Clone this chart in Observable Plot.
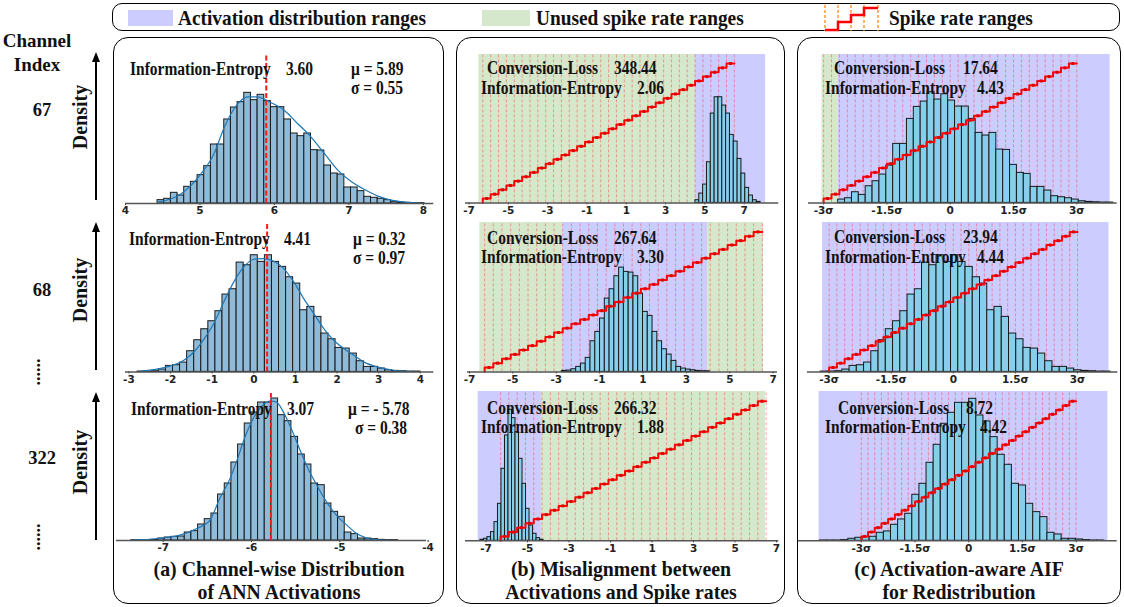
<!DOCTYPE html>
<html><head><meta charset="utf-8">
<script src="https://cdn.jsdelivr.net/npm/d3@7"></script>
<script src="https://cdn.jsdelivr.net/npm/@observablehq/plot@0.6"></script>
<style>
html,body{margin:0;padding:0;background:#fff;}
#root{position:relative;width:1124px;height:607px;overflow:hidden;font-family:"Liberation Serif","Times New Roman",serif;font-weight:bold;color:#111;}
.abs{position:absolute;white-space:pre;line-height:1;z-index:5;}
.box{position:absolute;border:1.5px solid #000;box-sizing:border-box;}
</style></head><body><div id="root"></div><script>
// ---------------- DATA ----------------
const channels = ["67", "68", "322"];
const means = [5.89, 0.32, -5.78];
const sigmas = [0.55, 0.97, 0.38];
const entropyA = [3.60, 4.41, 3.07];
const entropyB = [2.06, 3.30, 1.88];
const lossB = [348.44, 267.64, 266.32];
const entropyC = [4.43, 4.44, 4.42];
const lossC = [17.64, 23.94, 8.72];

// (a) histograms of channel activations (bin start, bin width, counts)
const binStartA = [4.43, -2.79, -7.36];
const binWidthA = [0.0896, 0.1698, 0.0755];
const countsA67 = [10,14,32,24,50,65,85,112,177,177,252,288,304,332,310,326,307,289,289,252,210,202,210,160,159,114,90,87,48,48,37,20,17,14,10,5,3,2,1,1];
const countsA68 = [1,1,2,7,18,20,28,62,95,128,152,182,232,248,328,320,350,330,350,330,315,284,265,185,195,165,115,98,72,70,55,32,15,15,10,5,3,2,1,1];
const countsA322 = [1,1,1,2,6,9,11,12,24,28,48,64,81,138,171,234,288,351,384,414,414,426,376,358,311,258,228,171,166,111,86,71,24,19,6,6,4,2,1,1];

// (a) density curves
const kdeX67 = [4.43,4.74,5.0,5.19,5.32,5.46,5.64,5.77,5.95,6.13,6.31,6.49,6.67,6.85,7.03,7.21,7.39,7.57,7.75,7.96];
const kdeY67 = [4,28,85,150,225,285,320,320,303,280,240,200,150,100,66,42,22,10,4,1];
const kdeX68 = [-2.76,-2.08,-1.68,-1.40,-1.16,-0.96,-0.72,-0.48,-0.24,0.0,0.24,0.48,0.72,0.96,1.20,1.44,1.68,1.92,2.16,2.40,2.64,2.96,3.36,3.84];
const kdeY68 = [2,15,35,65,105,145,210,270,315,338,340,332,310,270,220,175,130,95,70,50,30,15,5,1];
const kdeX322 = [-7.36,-7.06,-6.81,-6.62,-6.47,-6.36,-6.26,-6.17,-6.08,-5.98,-5.89,-5.79,-5.72,-5.64,-5.55,-5.45,-5.36,-5.26,-5.15,-5.04,-4.92,-4.81,-4.70,-4.55,-4.32];
const kdeY322 = [1,6,16,36,61,126,176,236,306,366,401,418,416,386,336,271,216,166,116,76,46,21,8,2,0];

// (b) histograms on the shared spike-rate axis
const binStartB = [4.52, -2.74, -7.27];
const binWidthB = [0.195, 0.22, 0.169];
const countsB67 = [8,28,55,122,268,317,317,292,268,204,184,132,88,45,22,8,3];
const countsB68 = [3,4,8,15,25,42,92,120,160,220,248,287,313,300,298,287,235,180,168,120,92,68,52,33,15,10,7,5,3,2,2];
const countsB322 = [3,6,11,26,56,111,216,316,393,368,326,246,171,96,46,21,8,3];

// spike-rate thresholds (T = 32 levels)
const spikeLevels = 32;
const thresholdsB = [-6.3,-5.9,-5.5,-5.1,-4.7,-4.3,-3.9,-3.5,-3.1,-2.7,-2.3,-1.9,-1.5,-1.1,-0.7,-0.3,0.1,0.5,0.9,1.3,1.7,2.1,2.5,2.9,3.3,3.7,4.1,4.5,4.9,5.3,5.7,6.1,6.5];
const thresholdsC = [-3,-2.8125,-2.625,-2.4375,-2.25,-2.0625,-1.875,-1.6875,-1.5,-1.3125,-1.125,-0.9375,-0.75,-0.5625,-0.375,-0.1875,0,0.1875,0.375,0.5625,0.75,0.9375,1.125,1.3125,1.5,1.6875,1.875,2.0625,2.25,2.4375,2.625,2.8125,3];

// shaded ranges
const activationRangesB = [[[4.52, 8.09]], [[-2.70, 3.98]], [[-7.38, -4.33]]];
const unusedRangesB = [[[-6.5, 4.52]], [[-6.52, -2.70], [3.98, 6.55]], [[-4.33, 6.47]]];
const activationRangesC = [[[-2.65, 3.79]], [[-3.16, 3.76]], [[-4.18, 3.89]]];
const unusedRangesC = [[[-3.04, -2.65]], [], []];

// tick labels
const ticksA = [[4,5,6,7,8], [-3,-2,-1,0,1,2,3,4], [-7,-6,-5,-4]];
const ticksB = [-7,-5,-3,-1,1,3,5,7];
const ticksC = [-3,-1.5,0,1.5,3];

// ---------------- LAYOUT ----------------
const countsPerPx = 3;
const C_ACT = "#ccccff", C_UNUSED = "#d6e8cb";
const root = document.getElementById("root");

function addText(txt, x, y, size, sx, extra) {
  const d = document.createElement("div");
  d.className = "abs";
  d.textContent = txt;
  d.style.left = x + "px";
  d.style.top = y + "px";
  d.style.fontSize = size + "px";
  d.style.transformOrigin = "0 50%";
  d.style.transform = "translate(0,-50%)" + (sx ? ` scaleX(${sx})` : "");
  if (extra) Object.assign(d.style, extra);
  root.appendChild(d);
  return d;
}
function addCentered(txt, x, y, size, rot, sx) {
  const d = addText(txt, x, y, size);
  d.style.transformOrigin = "50% 50%";
  d.style.transform = "translate(-50%,-50%)" + (rot ? ` rotate(${rot}deg)` : "") + (sx ? ` scaleX(${sx})` : "");
  return d;
}
function addBox(x, y, w, h, r, extra) {
  const d = document.createElement("div");
  d.className = "box";
  Object.assign(d.style, {left: x+"px", top: y+"px", width: w+"px", height: h+"px", borderRadius: r+"px"});
  if (extra) Object.assign(d.style, extra);
  root.appendChild(d);
  return d;
}
const fmtHyphen = d => (d < 0 ? "-" : "") + Math.abs(d);
const fmtSigma = d => d === 0 ? "0" : (d < 0 ? "-" : "") + Math.abs(d) + "σ";

function placePlot(lay, marksFn, ticks, tickFormat) {
  const padL = 14, padR = 14, padB = 18;
  const w = lay.right - lay.left + padL + padR;
  const h = lay.baseline - lay.top + padB;
  const yMax = (lay.baseline - lay.top) * countsPerPx;
  const svg = Plot.plot({
    width: w, height: h,
    marginLeft: padL, marginRight: padR, marginTop: 0, marginBottom: padB,
    x: {domain: lay.domain, ticks, tickFormat, tickSize: 2, tickPadding: 1.5, label: null},
    y: {domain: [0, yMax], axis: null},
    style: {background: "transparent", fontFamily: "'DejaVu Sans', sans-serif", fontSize: "10.5px", color: "#222", overflow: "visible"},
    marks: marksFn(yMax)
  });
  svg.style.position = "absolute";
  svg.style.left = (lay.left - padL) + "px";
  svg.style.top = lay.top + "px";
  root.appendChild(svg);
}

function binsOf(start, width, counts, mu, sd) {
  return counts.map((c, i) => {
    let x1 = start + i * width, x2 = x1 + width;
    if (mu !== undefined) { x1 = (x1 - mu) / sd; x2 = (x2 - mu) / sd; }
    return {x1, x2, y1: 0, y2: c};
  });
}
function rangesOf(list, fill, yMax) {
  return list.map(([a, b]) => ({x1: a, x2: b, y1: 0, y2: yMax, fill}));
}
function stairMarks(th, lay, yMax) {
  const unit = (lay.baseline - lay.stairTop) * countsPerPx / spikeLevels;
  const pts = [{x: th[0], y: 0}];
  for (let k = 0; k < th.length - 1; k++) pts.push({x: th[k], y: (k + 1) * unit});
  pts.push({x: th[th.length - 1], y: (th.length - 1) * unit});
  const mids = [];
  for (let k = 0; k < th.length - 1; k++) mids.push({x: (th[k] + th[k + 1]) / 2, y: (k + 1) * unit});
  return [
    Plot.line(pts, {x: "x", y: "y", curve: "step-after", stroke: "#ff0000", strokeWidth: 2}),
    Plot.dot(mids, {x: "x", y: "y", symbol: "square", r: 1.7, fill: "#e00000", stroke: "none"})
  ];
}

// ---------------- PANEL FRAMES ----------------
addBox(112, 3, 1008, 28, 10);
addBox(113, 37, 331, 567, 15);
addBox(456, 37, 329, 567, 15);
addBox(797, 37, 324, 567, 15);

// legend
const LG = 21, LGS = 0.92;
addBox(128, 10, 45, 16, 0, {background: C_ACT, border: "none"});
addText("Activation distribution ranges", 178, 18, LG, LGS);
addBox(482, 10, 48, 16, 0, {background: C_UNUSED, border: "none"});
addText("Unused spike rate ranges", 536, 18, LG, LGS);
{
  const ns = "http://www.w3.org/2000/svg";
  const s = document.createElementNS(ns, "svg");
  s.setAttribute("width", 64); s.setAttribute("height", 30);
  Object.assign(s.style, {position: "absolute", left: "818px", top: "3px"});
  [7, 20, 33, 46, 60].forEach(x => {
    const l = document.createElementNS(ns, "line");
    l.setAttribute("x1", x); l.setAttribute("x2", x); l.setAttribute("y1", 2); l.setAttribute("y2", 28);
    l.setAttribute("stroke", "#ff8c1a"); l.setAttribute("stroke-width", 1.3); l.setAttribute("stroke-dasharray", "3,2");
    s.appendChild(l);
  });
  const p = document.createElementNS(ns, "path");
  p.setAttribute("d", "M7,27 H20 V19 H33 V12 H46 V5 H60");
  p.setAttribute("fill", "none"); p.setAttribute("stroke", "#ff0000"); p.setAttribute("stroke-width", 2.5);
  s.appendChild(p);
  root.appendChild(s);
}
addText("Spike rate ranges", 889, 18, LG, LGS);

// left labels
addCentered("Channel", 37, 40, 19);
addCentered("Index", 37, 64, 19);
const rowDensityY = [117, 290, 462];
const rowChanY = [110, 290, 458];
const arrows = [[52, 200], [222, 370], [392, 540]];
arrows.forEach(([t, b]) => {
  addBox(95.2, t + 8, 1.8, b - t - 8, 0, {background: "#000", border: "none"});
  const tri = document.createElement("div");
  Object.assign(tri.style, {position: "absolute", left: "92px", top: t + "px", width: 0, height: 0,
    borderLeft: "4px solid transparent", borderRight: "4px solid transparent", borderBottom: "10px solid #000"});
  root.appendChild(tri);
});
rowDensityY.forEach(y => addCentered("Density", 80, y, 20, -90));
channels.forEach((c, i) => addCentered(c, 42, rowChanY[i], 18.5));
addCentered("......", 43, 372, 18, 90);
addCentered("......", 43, 537, 18, 90);

// captions
const CF = 22, CS = 0.9;
addCentered("(a) Channel-wise Distribution", 278.5, 569, CF, 0, CS);
addCentered("of ANN Activations", 278.5, 592, CF, 0, CS);
addCentered("(b) Misalignment between", 620.5, 569, CF, 0, CS);
addCentered("Activations and Spike rates", 620.5, 592, CF, 0, CS);
addCentered("(c) Activation-aware AIF", 959, 569, CF, 0, CS);
addCentered("for Redistribution", 959, 592, CF, 0, CS);

// annotation font
const AF = 18, AS = 0.86;

// ---------------- PANEL (a) ----------------
const layA = [
  {left: 124.7, right: 433, domain: [4, 8.14], baseline: 203.3, top: 55.3},
  {left: 124.7, right: 433, domain: [-3.082, 4.324], baseline: 371.7, top: 224.3},
  {left: 116.3, right: 426.3, domain: [-7.529, -4.018], baseline: 540.3, top: 393.3}
];
const countsA = [countsA67, countsA68, countsA322];
const kdeXs = [kdeX67, kdeX68, kdeX322], kdeYs = [kdeY67, kdeY68, kdeY322];
layA.forEach((lay, i) => {
  const bins = binsOf(binStartA[i], binWidthA[i], countsA[i]);
  const kde = kdeXs[i].map((x, j) => ({x, y: kdeYs[i][j]}));
  placePlot(lay, yMax => [
    Plot.rect(bins, {x1: "x1", x2: "x2", y1: "y1", y2: "y2", fill: "#8fbbd9", stroke: "#1a1a1a", strokeWidth: 1}),
    Plot.line(kde, {x: "x", y: "y", stroke: "#1f77b4", strokeWidth: 1.2, curve: "monotone-x"}),
    Plot.ruleX([means[i]], {y1: 0, y2: yMax, stroke: "#ff1a1a", strokeWidth: 2, strokeDasharray: "5,2.5"}),
    Plot.ruleY([0], {stroke: "#555", strokeWidth: 1.5})
  ], ticksA[i], fmtHyphen);
});
const textA = [
  {ie: [130, 69.3], v: 286, mu: [351, 68.5], sd: [351, 87.7]},
  {ie: [129, 239], v: 284, mu: [353, 239], sd: [353, 257.7]},
  {ie: [131.3, 409], v: 287, mu: [348, 409], sd: [354.7, 428.3]}
];
textA.forEach((t, i) => {
  addText("Information-Entropy", t.ie[0], t.ie[1], AF, AS);
  addText(entropyA[i].toFixed(2), t.v, t.ie[1], AF, AS);
  addText("μ = " + (means[i] < 0 ? "- " : "") + Math.abs(means[i]).toFixed(2), t.mu[0], t.mu[1], AF, AS);
  addText("σ = " + sigmas[i].toFixed(2), t.sd[0], t.sd[1], AF, AS);
});

// ---------------- PANEL (b) ----------------
const layB = [
  {left: 465, right: 778.3, domain: [-7.18, 8.76], baseline: 202.7, top: 54.3, stairTop: 63.3},
  {left: 466.7, right: 776.7, domain: [-7.09, 7.20], baseline: 371.7, top: 222.3, stairTop: 231.7},
  {left: 465, right: 778.3, domain: [-7.99, 7.11], baseline: 540.3, top: 391, stairTop: 400.7}
];
const countsB = [countsB67, countsB68, countsB322];
layB.forEach((lay, i) => {
  const bins = binsOf(binStartB[i], binWidthB[i], countsB[i]);
  placePlot(lay, yMax => [
    Plot.rect(rangesOf(unusedRangesB[i], C_UNUSED, yMax).concat(rangesOf(activationRangesB[i], C_ACT, yMax)),
      {x1: "x1", x2: "x2", y1: "y1", y2: "y2", fill: "fill"}),
    Plot.ruleX(thresholdsB, {y1: 0, y2: yMax, stroke: "#ff3030", strokeOpacity: 0.45, strokeWidth: 1, strokeDasharray: "3,2"}),
    Plot.rect(bins, {x1: "x1", x2: "x2", y1: "y1", y2: "y2", fill: "#87ceeb", stroke: "#1a1a1a", strokeWidth: 1}),
    ...stairMarks(thresholdsB, lay, yMax),
    Plot.ruleY([0], {stroke: "#555", strokeWidth: 1.5})
  ], ticksB, fmtHyphen);
});
const textB = [
  {cl: [486.7, 68.3], clv: 614.3, ie: [481, 87.7], iev: 636.7},
  {cl: [486.7, 238.3], clv: 614.3, ie: [481, 257.3], iev: 636.7},
  {cl: [486.7, 407.7], clv: 614.3, ie: [481, 427.3], iev: 636.7}
];
textB.forEach((t, i) => {
  addText("Conversion-Loss", t.cl[0], t.cl[1], AF, AS);
  addText(lossB[i].toFixed(2), t.clv, t.cl[1], AF, AS);
  addText("Information-Entropy", t.ie[0], t.ie[1], AF, AS);
  addText(entropyB[i].toFixed(2), t.iev, t.ie[1], AF, AS);
});

// ---------------- PANEL (c) ----------------
const layC = [
  {left: 808.3, right: 1117, domain: [-3.358, 3.957], baseline: 202.7, top: 54.3, stairTop: 63.3},
  {left: 806.7, right: 1117, domain: [-3.522, 3.973], baseline: 371.7, top: 222.3, stairTop: 231.7},
  {left: 798.3, right: 1117, domain: [-4.754, 4.148], baseline: 540.3, top: 391, stairTop: 400.7}
];
layC.forEach((lay, i) => {
  const bins = binsOf(binStartA[i], binWidthA[i], countsA[i], means[i], sigmas[i]);
  placePlot(lay, yMax => [
    Plot.rect(rangesOf(unusedRangesC[i], C_UNUSED, yMax).concat(rangesOf(activationRangesC[i], C_ACT, yMax)),
      {x1: "x1", x2: "x2", y1: "y1", y2: "y2", fill: "fill"}),
    Plot.ruleX(thresholdsC, {y1: 0, y2: yMax, stroke: "#ff3030", strokeOpacity: 0.45, strokeWidth: 1, strokeDasharray: "3,2"}),
    Plot.rect(bins, {x1: "x1", x2: "x2", y1: "y1", y2: "y2", fill: "#87ceeb", stroke: "#1a1a1a", strokeWidth: 1}),
    ...stairMarks(thresholdsC, lay, yMax),
    Plot.ruleY([0], {stroke: "#555", strokeWidth: 1.5})
  ], ticksC, fmtSigma);
});
const textC = [
  {cl: [834.3, 68.3], clv: 963.3, ie: [825, 87.7], iev: 976.7},
  {cl: [834.3, 237.3], clv: 963.3, ie: [825, 256.7], iev: 976.7},
  {cl: [838.3, 407.7], clv: 965.7, ie: [825, 426.7], iev: 980}
];
textC.forEach((t, i) => {
  addText("Conversion-Loss", t.cl[0], t.cl[1], AF, AS);
  addText(lossC[i].toFixed(2), t.clv, t.cl[1], AF, AS);
  addText("Information-Entropy", t.ie[0], t.ie[1], AF, AS);
  addText(entropyC[i].toFixed(2), t.iev, t.ie[1], AF, AS);
});
</script></body></html>
